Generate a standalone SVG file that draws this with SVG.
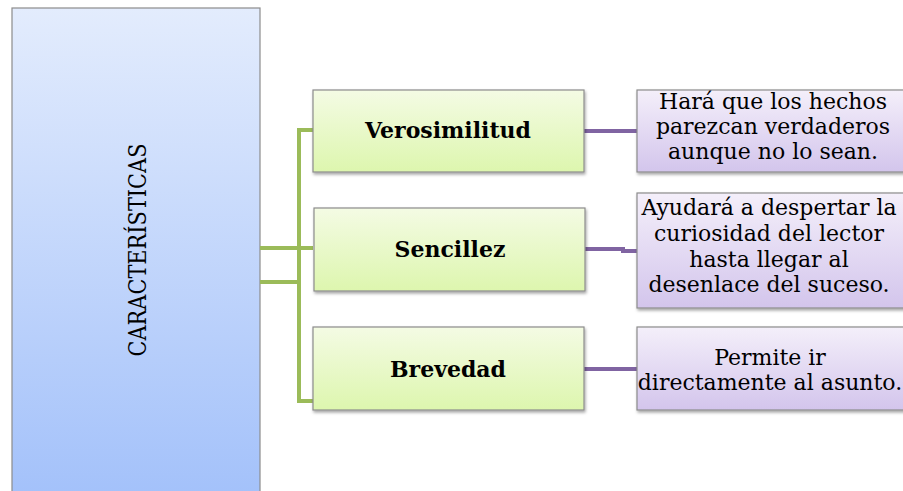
<svg xmlns="http://www.w3.org/2000/svg" width="903" height="491" viewBox="0 0 903 491">
<defs>
<linearGradient id="gBlue" x1="0" y1="0" x2="0" y2="1">
<stop offset="0" stop-color="#e3ecfd"/><stop offset="1" stop-color="#a3c1fa"/>
</linearGradient>
<linearGradient id="gGreen" x1="0" y1="0" x2="0" y2="1">
<stop offset="0" stop-color="#f4fbe4"/><stop offset="1" stop-color="#ddf6ae"/>
</linearGradient>
<linearGradient id="gPurple" x1="0" y1="0" x2="0" y2="1">
<stop offset="0" stop-color="#f4effa"/><stop offset="1" stop-color="#d3c5ec"/>
</linearGradient>
<filter id="sh" x="-10%" y="-10%" width="120%" height="130%">
<feDropShadow dx="1" dy="2" stdDeviation="1.5" flood-color="#000" flood-opacity="0.35"/>
</filter>
</defs>
<style>
.box{stroke:#8c8c8c;stroke-width:1.2;filter:url(#sh)}
.g{fill:url(#gGreen)}
.p{fill:url(#gPurple)}
.gl{stroke:#9bbb59;stroke-width:4;fill:none}
.pl{stroke:#8064a2;stroke-width:4;fill:none}
.lbl{font-family:"DejaVu Serif","Liberation Serif",serif;font-weight:bold;font-size:22px;fill:#000;text-anchor:middle}
.txt{font-family:"DejaVu Serif","Liberation Serif",serif;font-size:22px;fill:#000;text-anchor:middle}
.big{font-family:"DejaVu Serif","Liberation Serif",serif;font-size:25px;fill:#000;text-anchor:middle}
</style>
<g id="caracteristicas">
<rect x="12" y="8" width="248" height="490" fill="url(#gBlue)" stroke="#8c8c8c" stroke-width="1.2"/>
<text class="big" transform="translate(146,250) rotate(-90)" textLength="213" lengthAdjust="spacingAndGlyphs">CARACTERÍSTICAS</text>
</g>
<g id="connectors">
<path class="gl" d="M260,248 H313 M260,282 H299 M313,130 H299 V401 H313"/>
<path class="pl" d="M584,131 H637"/>
<path class="pl" d="M585,249 H623 V251 H637"/>
<path class="pl" d="M584,369 H637"/>
</g>
<g id="verosimilitud">
<rect class="box g" x="313" y="90" width="271" height="82"/>
<text class="lbl" x="448" y="138">Verosimilitud</text>
</g>
<g id="sencillez">
<rect class="box g" x="314" y="208" width="271" height="83"/>
<text class="lbl" x="450" y="257">Sencillez</text>
</g>
<g id="brevedad">
<rect class="box g" x="313" y="327" width="271" height="83"/>
<text class="lbl" x="448" y="377">Brevedad</text>
</g>
<g id="desc1">
<rect class="box p" x="637" y="90" width="280" height="82"/>
<text class="txt" x="773" y="109">Hará que los hechos</text>
<text class="txt" x="773" y="134">parezcan verdaderos</text>
<text class="txt" x="773" y="159">aunque no lo sean.</text>
</g>
<g id="desc2">
<rect class="box p" x="637" y="193" width="280" height="115"/>
<text class="txt" x="769" y="215">Ayudará a despertar la</text>
<text class="txt" x="769" y="241">curiosidad del lector</text>
<text class="txt" x="769" y="267">hasta llegar al</text>
<text class="txt" x="769" y="292">desenlace del suceso.</text>
</g>
<g id="desc3">
<rect class="box p" x="637" y="327" width="280" height="83"/>
<text class="txt" x="770" y="365">Permite ir</text>
<text class="txt" x="770" y="390">directamente al asunto.</text>
</g>
</svg>
